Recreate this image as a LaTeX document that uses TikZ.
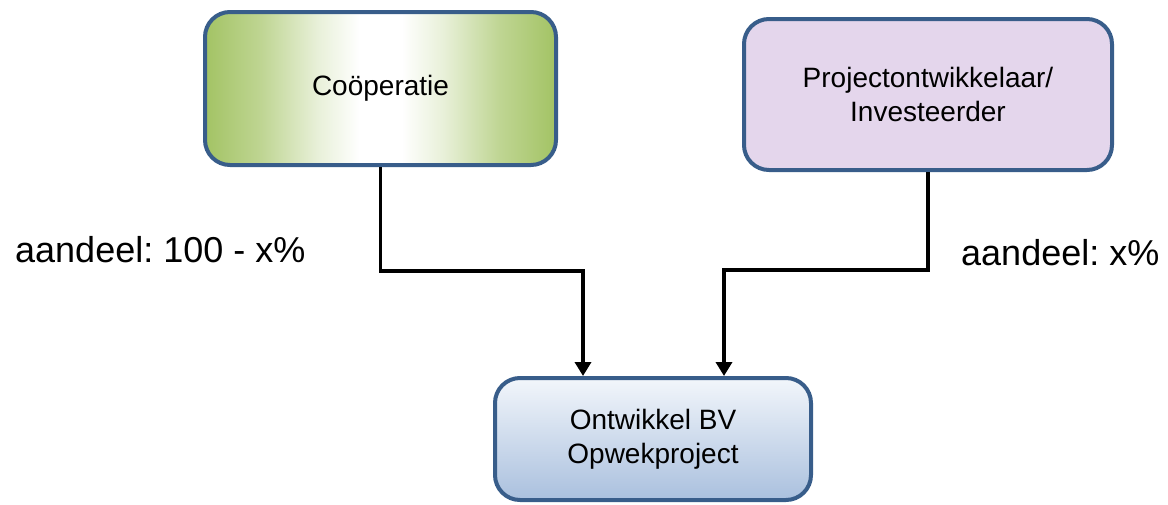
\documentclass[tikz,border=0pt]{standalone}
\usepackage{fontspec}
\setmainfont{Liberation Sans}
\usetikzlibrary{arrows.meta}
\definecolor{bordc}{RGB}{56,93,138}
\definecolor{coopg}{RGB}{163,195,100}
\definecolor{projp}{RGB}{228,214,236}
\definecolor{btop}{RGB}{242,246,251}
\definecolor{bbot}{RGB}{170,192,222}
\pgfdeclarehorizontalshading{coopshade}{100bp}{color(0bp)=(coopg); color(25bp)=(coopg); color(33bp)=(coopg!70!white); color(41bp)=(coopg!25!white); color(47bp)=(white); color(53bp)=(white); color(59bp)=(coopg!25!white); color(67bp)=(coopg!70!white); color(75bp)=(coopg); color(100bp)=(coopg)}
\tikzset{
  boxstyle/.style={draw=bordc, line width=4pt, rounded corners=25pt, align=center, inner sep=0pt, font=\fontsize{28}{34}\selectfont},
  conn/.style={line width=3.5pt, -{Triangle[width=16pt,length=14pt]}},
  lbl/.style={inner sep=0pt, font=\fontsize{36}{42}\selectfont\frenchspacing}
}
\begin{document}
\begin{tikzpicture}[x=1pt,y=-1pt]
\useasboundingbox (0,0) rectangle (1168,504);
\node[boxstyle, shading=coopshade, minimum width=351pt, minimum height=153pt] (coop) at (380.5,88.5) {Coöperatie};
\node[boxstyle, fill=projp, minimum width=368pt, minimum height=151pt] (proj) at (928,94.5) {Projectontwikkelaar/\\Investeerder};
\node[boxstyle, top color=btop, bottom color=bbot, minimum width=316pt, minimum height=122pt] (bv) at (653,439) {Ontwikkel BV\\Opwekproject};
\coordinate (jl) at (583,271);
\coordinate (jr) at (724,270);
\draw[conn] (coop.south) |- (jl) -- (jl |- bv.north);
\draw[conn] (proj.south) |- (jr) -- (jr |- bv.north);
\node[lbl, anchor=base west] (l1) at (15,262) {aandeel: 100 - x\%};
\node[lbl, anchor=base west] (l2) at (961,265) {aandeel: x\%};
\end{tikzpicture}
\end{document}
